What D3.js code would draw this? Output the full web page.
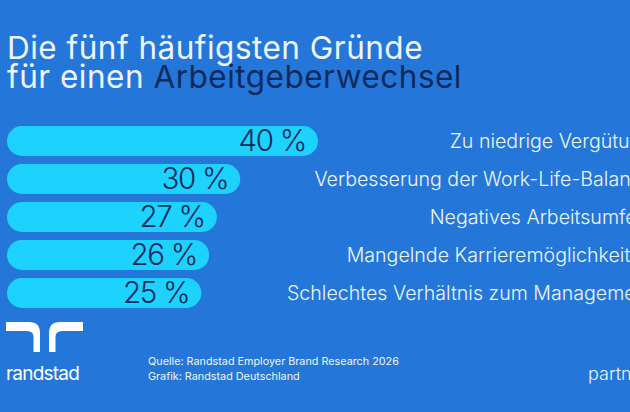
<!DOCTYPE html>
<html>
<head>
<meta charset="utf-8">
<script src="https://cdn.jsdelivr.net/npm/d3@7"></script>
<style>
  html, body { margin: 0; padding: 0; background: #2477d8; }
  svg { display: block; }
</style>
</head>
<body>
<div id="chart"></div>
<script>
// Daten
const categories = [
  "Zu niedrige Vergütung",
  "Verbesserung der Work-Life-Balance",
  "Negatives Arbeitsumfeld",
  "Mangelnde Karrieremöglichkeiten",
  "Schlechtes Verhältnis zum Management"
];
const values = [40, 30, 27, 26, 25];
const titleLines = ["Die fünf häufigsten Gründe", "für einen "];
const titleAccent = "Arbeitgeberwechsel";
const sourceLines = [
  "Quelle: Randstad Employer Brand Research 2026",
  "Grafik: Randstad Deutschland"
];

const width = 630,
  height = 412;
const colors = {
  bg: "#2477d8",
  bar: "#1dd2fd",
  navy: "#0c2a5c",
  light: "#eef5ff"
};
const font = "Inter, 'Noto Sans', sans-serif";

const svg = d3
  .select("#chart")
  .append("svg")
  .attr("width", width)
  .attr("height", height);

svg.append("rect").attr("width", width).attr("height", height).attr("fill", colors.bg);

// Laufweite anpassen, damit eine Zeile die Zielbreite trifft
const fitWidth = (sel, target) => {
  const node = sel.node();
  const len = node.getComputedTextLength();
  const n = node.textContent.length;
  sel.style("letter-spacing", `${(target - len) / n}px`);
};

// Titel
const t1 = svg
  .append("text")
  .attr("x", 7)
  .attr("y", 59)
  .style("font-family", font)
  .style("font-size", "31.5px")
  .attr("fill", colors.light)
  .text(titleLines[0]);
fitWidth(t1, 416);

const t2 = svg
  .append("text")
  .attr("x", 7)
  .attr("y", 88)
  .style("font-family", font)
  .style("font-size", "31.5px")
  .attr("fill", colors.light);
t2.append("tspan").text(titleLines[1]);
t2.append("tspan").attr("fill", colors.navy).text(titleAccent);
fitWidth(t2, 455);

// Skalen
const rows = categories.map((c, i) => ({ category: c, value: values[i] }));
const x = d3.scaleLinear().domain([0, 40]).range([7, 318]);
const y = d3
  .scaleBand()
  .domain(categories)
  .range([126, 308])
  .paddingInner(8 / 38);

const h = y.bandwidth();

// Balken
svg
  .append("g")
  .selectAll("rect")
  .data(rows)
  .enter()
  .append("rect")
  .attr("x", x(0))
  .attr("y", (d) => y(d.category))
  .attr("width", (d) => x(d.value) - x(0))
  .attr("height", h)
  .attr("rx", h / 2)
  .attr("fill", colors.bar);

// Werte
svg
  .append("g")
  .selectAll("text")
  .data(rows)
  .enter()
  .append("text")
  .attr("x", (d) => x(d.value) - 12)
  .attr("y", (d) => y(d.category) + h / 2 + 10)
  .attr("text-anchor", "end")
  .style("font-family", font)
  .style("font-size", "29.5px")
  .style("font-weight", 300)
  .style("letter-spacing", "-1.3px")
  .attr("fill", colors.navy)
  .text((d) => `${d.value} %`);

// Kategorien (rechts, angeschnitten)
svg
  .append("g")
  .selectAll("text")
  .data(rows)
  .enter()
  .append("text")
  .attr("x", 653)
  .attr("y", (d) => y(d.category) + h / 2 + 6.5)
  .attr("text-anchor", "end")
  .style("font-family", font)
  .style("font-size", "19.6px")
  .style("font-weight", 300)
  .attr("fill", colors.light)
  .text((d) => d.category);

// Logo
const logo = svg.append("g").attr("fill", "#ffffff");
logo
  .append("path")
  .attr("d", "M6,322 H29 Q40,322 40,333 V352 H33.5 V337 Q33.5,331 27,331 H6 Z");
logo
  .append("path")
  .attr("d", "M83,322 H60 Q49,322 49,333 V352 H55.5 V337 Q55.5,331 62,331 H83 Z");
const brand = svg
  .append("text")
  .attr("x", 6)
  .attr("y", 380)
  .style("font-family", font)
  .style("font-size", "19px")
  .style("font-weight", 400)
  .attr("fill", "#ffffff")
  .text("randstad");
fitWidth(brand, 73);

// Quelle
svg
  .append("g")
  .selectAll("text")
  .data(sourceLines)
  .enter()
  .append("text")
  .attr("x", 148)
  .attr("y", (d, i) => 365 + i * 15)
  .style("font-family", font)
  .style("font-size", "10.8px")
  .attr("fill", colors.light)
  .text((d) => d);

svg
  .append("text")
  .attr("x", 588)
  .attr("y", 380)
  .style("font-family", font)
  .style("font-size", "18px")
  .style("font-weight", 300)
  .attr("fill", colors.light)
  .text("partner for talent");
</script>
</body>
</html>
